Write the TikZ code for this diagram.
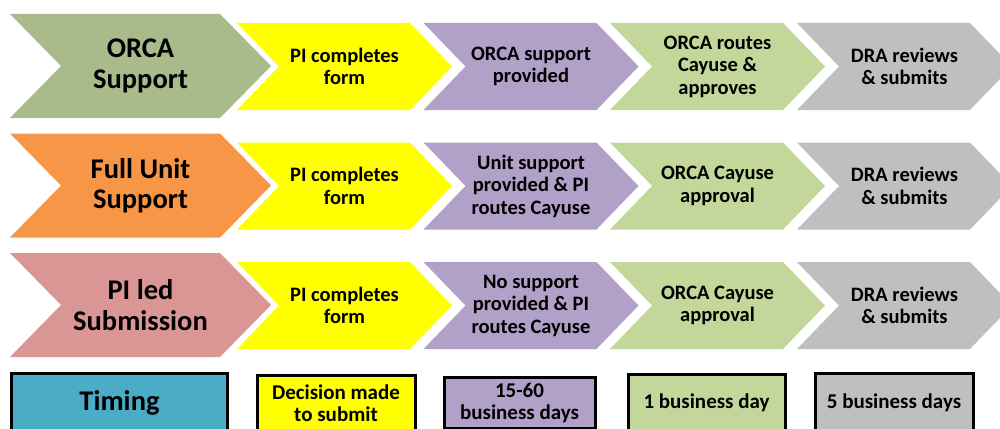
\documentclass[tikz,border=0pt]{standalone}
\usepackage{fontspec}
\setmainfont{Carlito}

\definecolor{olivebig}{HTML}{A9BB8B}
\definecolor{orangebig}{HTML}{F79646}
\definecolor{pinkbig}{HTML}{DA9694}
\definecolor{stepyellow}{HTML}{FFFF00}
\definecolor{steppurple}{HTML}{B1A0C7}
\definecolor{stepgreen}{HTML}{C4D79B}
\definecolor{stepgray}{HTML}{BFBFBF}
\definecolor{timeteal}{HTML}{4BACC6}

% chevron: #1 name, #2 left, #3 top, #4 width, #5 height, #6 point depth,
% #7 fill, #8 label style, #9 label
\newcommand\chevshape[9]{%
  \fill[#7] (#2,#3) -- ++(#4-#6,0) -- ++(#6,#5/2) -- ++(-#6,#5/2)
    -- ++(-#4+#6,0) -- ++(#6,-#5/2) -- cycle;
  \node[#8] (#1) at (#2+#4/2,#3+#5/2) {#9};
}

\begin{document}
\begin{tikzpicture}[x=1pt,y=-1pt,
  bigtext/.style={font=\fontsize{28.5}{30.5}\selectfont\bfseries, align=center, inner sep=0pt},
  smalltext/.style={font=\fontsize{20.5}{22.5}\selectfont\bfseries, align=center, inner sep=0pt},
  timebox/.style={draw=black, line width=3pt, align=center, inner sep=0pt,
    font=\fontsize{21}{22.5}\selectfont\bfseries}]
\useasboundingbox (0,0) rectangle (1000,428);
\clip (0,0) rectangle (1000,428);

% row 1: ORCA support
\chevshape{orca}{10}{14}{261}{104}{51}{olivebig}{bigtext}{ORCA\\Support}
\chevshape{orcaA}{237}{23}{215}{87}{42}{stepyellow}{smalltext}{PI completes\\form}
\chevshape{orcaB}{423.5}{23}{215}{87}{42}{steppurple}{smalltext}{ORCA support\\provided}
\chevshape{orcaC}{610}{23}{215}{87}{42}{stepgreen}{smalltext}{ORCA routes\\Cayuse \&\\approves}
\chevshape{orcaD}{797}{23}{215}{87}{42}{stepgray}{smalltext}{DRA reviews\\\& submits}

% row 2: full unit support
\chevshape{unit}{10}{133.5}{261}{104}{51}{orangebig}{bigtext}{Full Unit\\Support}
\chevshape{unitA}{237}{142.5}{215}{87}{42}{stepyellow}{smalltext}{PI completes\\form}
\chevshape{unitB}{423.5}{142.5}{215}{87}{42}{steppurple}{smalltext}{Unit support\\provided \& PI\\routes Cayuse}
\chevshape{unitC}{610}{142.5}{215}{87}{42}{stepgreen}{smalltext}{ORCA Cayuse\\approval}
\chevshape{unitD}{797}{142.5}{215}{87}{42}{stepgray}{smalltext}{DRA reviews\\\& submits}

% row 3: PI led submission
\chevshape{pi}{10}{253}{261}{104}{51}{pinkbig}{bigtext}{PI led\\Submission}
\chevshape{piA}{237}{262}{215}{87}{42}{stepyellow}{smalltext}{PI completes\\form}
\chevshape{piB}{423.5}{262}{215}{87}{42}{steppurple}{smalltext}{No support\\provided \& PI\\routes Cayuse}
\chevshape{piC}{610}{262}{215}{87}{42}{stepgreen}{smalltext}{ORCA Cayuse\\approval}
\chevshape{piD}{797}{262}{215}{87}{42}{stepgray}{smalltext}{DRA reviews\\\& submits}

% timing row
\node[timebox, fill=timeteal, minimum width=216pt, minimum height=60pt,
  font=\fontsize{28.5}{30.5}\selectfont\bfseries] (timing) at (119.5,403) {Timing};
\node[timebox, fill=stepyellow, minimum width=158pt, minimum height=55pt] (tA) at (336,403) {Decision made\\to submit};
\node[timebox, fill=steppurple, minimum width=151pt, minimum height=51pt] (tB) at (519.5,403) {15-60\\business days};
\node[timebox, fill=stepgreen, minimum width=157pt, minimum height=57pt] (tC) at (706.5,403) {1 business day};
\node[timebox, fill=stepgray, minimum width=158pt, minimum height=59pt] (tD) at (894,403) {5 business days};
\end{tikzpicture}
\end{document}
